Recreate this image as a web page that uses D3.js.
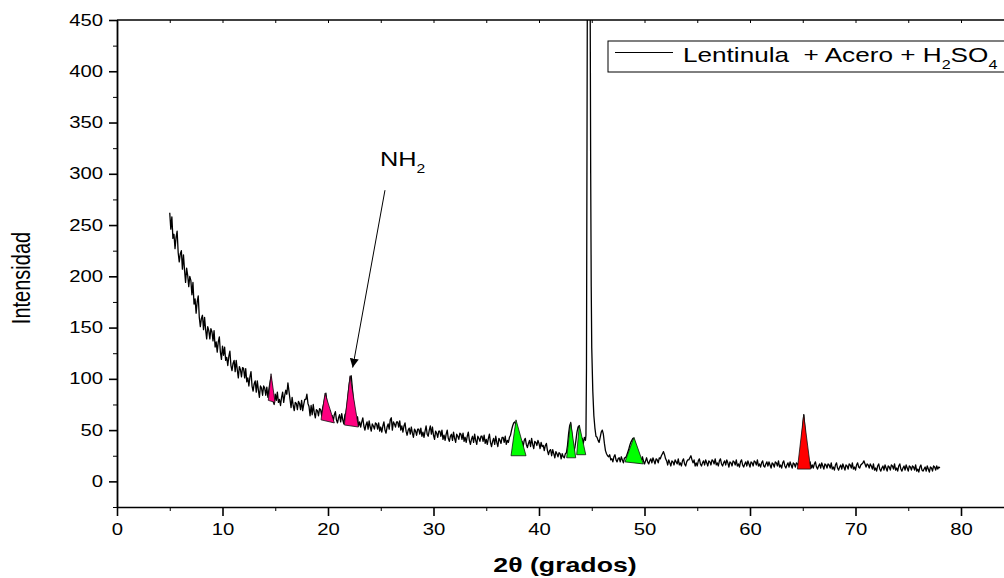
<!DOCTYPE html>
<html><head><meta charset="utf-8">
<script src="https://cdn.jsdelivr.net/npm/d3@7"></script>
<style>body{margin:0;background:#fff}svg{display:block}text{font-family:"Liberation Sans",Arial,sans-serif;white-space:pre}</style>
</head><body>
<svg id="chart" width="1004" height="578"></svg>
<script>
// ---------- data ----------
const xMajorTicks = [0,10,20,30,40,50,60,70,80];
const xMinorTicks = [5,15,25,35,45,55,65,75,85];
const yMajorTicks = [0,50,100,150,200,250,300,350,400,450];
const yMinorTicks = [-25,25,75,125,175,225,275,325,375,425];

// measured pattern: [2θ (deg), intensity]
const lowAngle = [
[5.0,262],[5.1,246],[5.2,258],[5.3,237],[5.4,241],[5.5,227],[5.6,238],[5.7,244],[5.8,223],[5.9,214],
[6.0,222],[6.1,225],[6.2,207],[6.3,221],[6.4,206],[6.5,194],[6.6,208],[6.7,201],[6.8,190],[6.9,200],
[7.0,196],[7.1,182],[7.2,194],[7.3,173],[7.4,178],[7.5,164],[7.6,175],[7.7,181],[7.8,160],[7.9,151],
[8.0,159],[8.1,162],[8.2,148],[8.3,160],[8.4,148],[8.5,139],[8.6,151],[8.7,147],[8.8,139],[8.9,149],
[9.0,146],[9.1,137],[9.2,147],[9.3,131],[9.4,136],[9.5,126],[9.6,136],[9.7,141],[9.8,126],[9.9,119],
[10.0,132],[10.1,123],[10.2,131],[10.3,118],[10.4,121],[10.5,113],[10.6,122],[10.7,127],[10.8,113],[10.9,108],
[11.0,115],[11.1,118],[11.2,107],[11.3,118],[11.4,109],[11.5,101],[11.6,112],[11.7,109],[11.8,102],[11.9,111],
[12.0,110],[12.1,101],[12.2,110],[12.3,97],[12.4,101],[12.5,93],[12.6,102],[12.7,107],[12.8,93],[12.9,88],
[13.0,95],[13.1,98],[13.2,87],[13.3,98],[13.4,89],[13.5,82],[13.6,93],[13.7,91],[13.8,84],[13.9,93],
[14.0,91],[14.1,84],[14.2,92],[14.3,82],[14.4,90],[14.5,96],[14.6,102],[14.7,89],[14.8,78],[14.9,75],
[15.0,85],[15.1,79],[15.2,87],[15.3,77],[15.4,80],[15.5,74],[15.6,82],[15.7,87],[15.8,77],[15.9,84],
[16.0,89],[16.1,85],[16.2,96],[16.3,88],[16.4,80],[16.5,72],[16.6,82],[16.7,74],[16.8,69],[16.9,77],
[17.0,76],[17.1,70],[17.2,78],[17.3,76],[17.4,70],[17.5,79],[17.6,69],[17.7,75],[17.8,80],[17.9,80],
[18.0,85],[18.1,76],[18.2,73],[18.3,64],[18.4,74],[18.5,65],[18.6,75],[18.7,67],[18.8,62],[18.9,70],
[19.0,69],[19.1,64],[19.2,71],[19.3,70],[19.4,64],[19.5,72],[19.6,76],[19.7,82],[19.8,86],[19.9,77]];

const midAngle = [
[20.0,70],[20.1,63],[20.2,69],[20.3,60],[20.4,64],[20.5,59],[20.6,65],[20.7,68],[20.8,60],[20.9,57],
[21.0,62],[21.1,65],[21.2,58],[21.3,66],[21.4,60],[21.5,56],[21.6,65],[21.7,67],[21.8,74],[21.9,84],
[22.0,94],[22.1,101],[22.2,103],[22.3,92],[22.4,80],[22.5,68],[22.6,63],[22.7,57],[22.8,63],[22.9,54],
[23.0,58],[23.1,53],[23.2,58],[23.3,62],[23.4,54],[23.5,50],[23.6,55],[23.7,58],[23.8,51],[23.9,59],
[24.0,53],[24.1,49],[24.2,56],[24.3,54],[24.4,51],[24.5,57],[24.6,56],[24.7,51],[24.8,57],[24.9,49],
[25.0,53],[25.1,48],[25.2,54],[25.3,58],[25.4,50],[25.5,47],[25.6,53],[25.7,56],[25.8,51],[25.9,60],
[26.0,62],[26.1,50],[26.2,58],[26.3,56],[26.4,53],[26.5,58],[26.6,58],[26.7,53],[26.8,59],[26.9,50],
[27.0,54],[27.1,48],[27.2,54],[27.3,57],[27.4,49],[27.5,45],[27.6,50],[27.7,52],[27.8,46],[27.9,53],
[28.0,47],[28.1,43],[28.2,51],[28.3,49],[28.4,45],[28.5,51],[28.6,51],[28.7,46],[28.8,52],[28.9,44],
[29.0,48],[29.1,43],[29.2,49],[29.3,54],[29.4,46],[29.5,44],[29.6,50],[29.7,54],[29.8,46],[29.9,53],
[30.0,45],[30.1,41],[30.2,49],[30.3,47],[30.4,43],[30.5,49],[30.6,49],[30.7,44],[30.8,50],[30.9,41],
[31.0,45],[31.1,40],[31.2,46],[31.3,50],[31.4,42],[31.5,39],[31.6,44],[31.7,46],[31.8,40],[31.9,48],
[32.0,42],[32.1,38],[32.2,46],[32.3,44],[32.4,41],[32.5,47],[32.6,46],[32.7,41],[32.8,47],[32.9,39],
[33.0,43],[33.1,38],[33.2,44],[33.3,48],[33.4,40],[33.5,36],[33.6,41],[33.7,44],[33.8,38],[33.9,46],
[34.0,40],[34.1,36],[34.2,44],[34.3,42],[34.4,39],[34.5,44],[34.6,44],[34.7,39],[34.8,45],[34.9,37],
[35.0,41],[35.1,36],[35.2,42],[35.3,46],[35.4,38],[35.5,34],[35.6,39],[35.7,42],[35.8,36],[35.9,44],
[36.0,38],[36.1,34],[36.2,42],[36.3,40],[36.4,37],[36.5,43],[36.6,43],[36.7,38],[36.8,44],[36.9,36],
[37.0,40],[37.1,38],[37.2,43],[37.3,45],[37.4,50],[37.5,54],[37.6,57],[37.7,58],[37.8,56],[37.9,50],
[38.0,44],[38.1,37],[38.2,43],[38.3,35],[38.4,39],[38.5,34],[38.6,40],[38.7,42],[38.8,36],[38.9,33],
[39.0,37],[39.1,40],[39.2,34],[39.3,42],[39.4,36],[39.5,32],[39.6,39],[39.7,38],[39.8,35],[39.9,40],
[40.0,37],[40.1,32],[40.2,38],[40.3,34],[40.4,35],[40.5,30],[40.6,35],[40.7,37],[40.8,30],[40.9,26],
[41.0,30],[41.1,31],[41.2,25],[41.3,31],[41.4,27],[41.5,23],[41.6,29],[41.7,27],[41.8,24],[41.9,28],
[42.0,27],[42.1,22],[42.2,27],[42.3,24],[42.4,23],[42.5,27],[42.6,28],[42.7,35],[42.8,46],[42.9,54],
[43.0,57],[43.1,48],[43.2,36],[43.3,29],[43.4,33],[43.5,40],[43.6,48],[43.7,53],[43.8,54],[43.9,45],
[44.0,37],[44.1,42],[44.2,37],[44.3,43],[44.4,40]];

const fePeak = [[44.45,45],[44.5,110],[44.55,330],[44.6,560],[44.7,650],[44.8,600],[44.85,470],[44.9,300],
[44.95,190],[45.0,130],[45.1,88],[45.2,64],[45.3,52],[45.4,44]];

const highAngle = [
[45.5,43],[45.6,40],[45.7,38],[45.8,43],[45.9,48],[46.0,50],[46.1,46],[46.2,37],[46.3,30],[46.4,27],
[46.5,25],[46.6,24],[46.7,26],[46.8,21],[46.9,22],[47.0,19],[47.1,24],[47.2,26],[47.3,21],[47.4,19],
[47.5,22],[47.6,23],[47.7,19],[47.8,24],[47.9,21],[48.0,18],[48.1,23],[48.2,23],[48.3,25],[48.4,28],
[48.5,31],[48.6,35],[48.7,38],[48.8,40],[48.9,42],[49.0,41],[49.1,37],[49.2,32],[49.3,27],[49.4,23],
[49.5,19],[49.6,23],[49.7,19],[49.8,24],[49.9,20],[50.0,17],[50.1,20],[50.2,23],[50.3,19],[50.4,17],
[50.5,20],[50.6,22],[50.7,18],[50.8,23],[50.9,20],[51.0,17],[51.1,22],[51.2,21],[51.3,18],[51.4,23],
[51.5,22],[51.6,25],[51.7,27],[51.8,29],[51.9,26],[52.0,22],[52.1,20],[52.2,16],[52.3,21],[52.4,18],
[52.5,15],[52.6,20],[52.7,19],[52.8,16],[52.9,21],[53.0,19],[53.1,17],[53.2,22],[53.3,16],[53.4,18],
[53.5,15],[53.6,20],[53.7,22],[53.8,17],[53.9,15],[54.0,19],[54.1,21],[54.2,21],[54.3,23],[54.4,25],
[54.5,21],[54.6,18],[54.7,21],[54.8,15],[54.9,18],[55.0,15],[55.1,20],[55.2,22],[55.3,17],[55.4,15],
[55.5,18],[55.6,20],[55.7,16],[55.8,21],[55.9,18],[56.0,15],[56.1,20],[56.2,19],[56.3,16],[56.4,21],
[56.5,20],[56.6,17],[56.7,22],[56.8,16],[56.9,18],[57.0,15],[57.1,20],[57.2,22],[57.3,17],[57.4,15],
[57.5,18],[57.6,20],[57.7,16],[57.8,21],[57.9,18],[58.0,14],[58.1,19],[58.2,18],[58.3,15],[58.4,20],
[58.5,19],[58.6,16],[58.7,21],[58.8,15],[58.9,17],[59.0,14],[59.1,19],[59.2,21],[59.3,16],[59.4,14],
[59.5,17],[59.6,19],[59.7,15],[59.8,20],[59.9,17],[60.0,14],[60.1,19],[60.2,18],[60.3,15],[60.4,20],
[60.5,19],[60.6,16],[60.7,21],[60.8,15],[60.9,17],[61.0,14],[61.1,18],[61.2,20],[61.3,15],[61.4,14],
[61.5,17],[61.6,19],[61.7,15],[61.8,19],[61.9,16],[62.0,13],[62.1,18],[62.2,17],[62.3,14],[62.4,19],
[62.5,18],[62.6,15],[62.7,20],[62.8,14],[62.9,16],[63.0,13],[63.1,18],[63.2,20],[63.3,15],[63.4,13],
[63.5,16],[63.6,18],[63.7,14],[63.8,19],[63.9,16],[64.0,13],[64.1,18],[64.2,17],[64.3,14],[64.4,18],
[64.5,17],[64.6,15],[64.7,20],[64.8,26],[64.9,38],[65.0,54],[65.1,65],[65.2,52],[65.3,36],[65.4,24],
[65.5,19],[65.6,16],[65.7,19],[65.8,13],[65.9,16],[66.0,13],[66.1,17],[66.2,19],[66.3,14],[66.4,12],
[66.5,15],[66.6,17],[66.7,13],[66.8,18],[66.9,15],[67.0,12],[67.1,17],[67.2,16],[67.3,13],[67.4,17],
[67.5,16],[67.6,13],[67.7,18],[67.8,12],[67.9,14],[68.0,11],[68.1,16],[68.2,18],[68.3,13],[68.4,11],
[68.5,14],[68.6,16],[68.7,12],[68.8,17],[68.9,14],[69.0,11],[69.1,16],[69.2,15],[69.3,12],[69.4,17],
[69.5,16],[69.6,13],[69.7,18],[69.8,12],[69.9,14],[70.0,11],[70.1,16],[70.2,18],[70.3,14],[70.4,13],
[70.5,16],[70.6,17],[70.7,18],[70.8,20],[70.9,17],[71.0,14],[71.1,17],[71.2,16],[71.3,13],[71.4,17],
[71.5,15],[71.6,12],[71.7,17],[71.8,11],[71.9,13],[72.0,10],[72.1,15],[72.2,17],[72.3,12],[72.4,10],
[72.5,13],[72.6,15],[72.7,11],[72.8,16],[72.9,13],[73.0,10],[73.1,15],[73.2,14],[73.3,11],[73.4,16],
[73.5,15],[73.6,12],[73.7,17],[73.8,11],[73.9,13],[74.0,10],[74.1,15],[74.2,17],[74.3,12],[74.4,10],
[74.5,13],[74.6,15],[74.7,11],[74.8,16],[74.9,13],[75.0,10],[75.1,15],[75.2,14],[75.3,11],[75.4,15],
[75.5,14],[75.6,11],[75.7,16],[75.8,10],[75.9,12],[76.0,9],[76.1,14],[76.2,16],[76.3,11],[76.4,10],
[76.5,12],[76.6,14],[76.7,10],[76.8,15],[76.9,12],[77.0,9],[77.1,14],[77.2,13],[77.3,10],[77.4,15],
[77.5,14],[77.6,11],[77.7,15],[77.8,12],[77.9,14],[78.0,13]];

// peak marker triangles: [left base, apex, right base] in (2θ, intensity)
const pinkMarks = [[[14.34,79],[14.6,105],[14.98,77]],[[19.34,60],[19.72,86],[20.6,57]],[[21.55,55],[22.09,103],[22.88,53]]];
const greenMarks = [[[37.35,25],[37.82,60],[38.77,25]],[[42.62,23],[43.0,58],[43.48,23]],[[43.57,26],[43.82,55],[44.43,26]],[[48.15,19],[49.0,43],[49.89,17]]];
const redMarks = [[[64.49,12],[65.09,65],[65.75,12]]];
const markColors = {pink:"#ff0080", green:"#00ff00", red:"#ff0000"};

const annotation = {label:"NH", sub:"2", textAt:[24.93,308], from:[25.4,284], to:[22.34,111]};
const legendLabel = ["Lentinula  + Acero + H","2","SO","4"];
const xTitle = "2\u03b8 (grados)";
const yTitle = "Intensidad";

// ---------- layout ----------
const SX = 1.27; // horizontal stretch of the original picture
const svg = d3.select("#chart");
const x = d3.scaleLinear().domain([0,85]).range([117, 117 + 85*10.55]);
const y = d3.scaleLinear().domain([-25,450]).range([507,20]);
const [x0,x1] = x.range(), [y0,y1] = y.range();

svg.append("defs").append("clipPath").attr("id","plot")
  .append("rect").attr("x",x0).attr("y",y1).attr("width",x1-x0).attr("height",y0-y1);

// frame
svg.append("line").attr("x1",x0).attr("x2",x1).attr("y1",y1).attr("y2",y1).attr("stroke","#000").attr("stroke-width",1.6);
svg.append("line").attr("x1",x1).attr("x2",x1).attr("y1",y1).attr("y2",y0).attr("stroke","#000").attr("stroke-width",1.6);

// top ticks (inward)
const gTop = svg.append("g").attr("transform",`translate(0,${y1})`)
  .call(d3.axisTop(x).tickValues(xMajorTicks.concat(xMinorTicks)).tickSize(-3).tickFormat(""));
gTop.select(".domain").remove();

// bottom axis
const gx = svg.append("g").attr("transform",`translate(0,${y0})`)
  .call(d3.axisBottom(x).tickValues(xMajorTicks).tickSize(9).tickSizeOuter(0).tickPadding(8));
gx.select(".domain").attr("stroke-width",1.6);
gx.selectAll(".tick line").attr("stroke-width",1.6);
gx.selectAll(".tick text").attr("font-size",16).attr("font-family","Liberation Sans, Arial")
  .attr("transform",`scale(${SX},1)`).attr("fill","#000");
svg.append("g").attr("transform",`translate(0,${y0})`)
  .call(d3.axisBottom(x).tickValues(xMinorTicks).tickSize(4).tickFormat(""))
  .call(g=>g.select(".domain").remove());

// left axis
const gy = svg.append("g").attr("transform",`translate(${x0},0)`)
  .call(d3.axisLeft(y).tickValues(yMajorTicks).tickSize(8).tickSizeOuter(0).tickPadding(5));
gy.select(".domain").attr("stroke-width",1.8);
gy.selectAll(".tick line").attr("stroke-width",1.6);
gy.selectAll(".tick text").attr("font-size",16).attr("font-family","Liberation Sans, Arial")
  .attr("x",-14/SX).attr("transform",`scale(${SX},1)`).attr("fill","#000");
svg.append("g").attr("transform",`translate(${x0},0)`)
  .call(d3.axisLeft(y).tickValues(yMinorTicks).tickSize(4).tickFormat(""))
  .call(g=>g.select(".domain").remove());

// axis titles
svg.append("text").attr("transform",`translate(565,572) scale(${SX},1)`)
  .attr("text-anchor","middle").attr("font-size",21).attr("font-weight","bold").text(xTitle);
svg.append("text").attr("transform",`translate(30,278) scale(${SX},1) rotate(-90)`)
  .attr("text-anchor","middle").attr("font-size",20).text(yTitle);

// data line
const scan = lowAngle.concat(midAngle, fePeak, highAngle);
const line = d3.line().x(d=>x(d[0])).y(d=>y(d[1]));
svg.append("path").datum(scan).attr("clip-path","url(#plot)")
  .attr("d",line).attr("fill","none").attr("stroke","#000").attr("stroke-width",1.3).attr("stroke-linejoin","round");

// triangles
const tri = d3.line().x(d=>x(d[0])).y(d=>y(d[1]));
[[pinkMarks,markColors.pink],[greenMarks,markColors.green],[redMarks,markColors.red]].forEach(([set,col])=>{
  svg.append("g").selectAll("path").data(set).join("path")
    .attr("d",d=>tri(d)+"Z").attr("fill",col).attr("stroke","#111").attr("stroke-width",0.8);
});

// NH2 annotation with arrow
svg.append("defs").append("marker").attr("id","ah").attr("viewBox","0 0 10 10")
  .attr("refX",10).attr("refY",5).attr("markerWidth",9).attr("markerHeight",9)
  .attr("markerUnits","userSpaceOnUse").attr("orient","auto")
  .append("path").attr("d","M0,0 L10,5 L0,10 Z").attr("fill","#000");
svg.append("line").attr("x1",x(annotation.from[0])).attr("y1",y(annotation.from[1]))
  .attr("x2",x(annotation.to[0])).attr("y2",y(annotation.to[1]))
  .attr("stroke","#000").attr("stroke-width",1).attr("marker-end","url(#ah)");
const nt = svg.append("text").attr("transform",`translate(${x(annotation.textAt[0])},${y(annotation.textAt[1])}) scale(${SX*0.95},1)`)
  .attr("font-size",21);
nt.append("tspan").text(annotation.label);
nt.append("tspan").attr("font-size",13).attr("dy",7).text(annotation.sub);

// legend
const lg = svg.append("g");
lg.append("rect").attr("x",608).attr("y",41).attr("width",440).attr("height",31)
  .attr("fill","#fff").attr("stroke","#000").attr("stroke-width",1);
lg.append("line").attr("x1",615).attr("x2",673).attr("y1",52.5).attr("y2",52.5).attr("stroke","#000").attr("stroke-width",1);
const lt = lg.append("text").attr("transform",`translate(683,62) scale(1.245,1)`).attr("font-size",21);
lt.append("tspan").text(legendLabel[0]);
lt.append("tspan").attr("font-size",13).attr("dy",7).text(legendLabel[1]);
lt.append("tspan").attr("dy",-7).text(legendLabel[2]);
lt.append("tspan").attr("font-size",13).attr("dy",7).text(legendLabel[3]);
</script>
</body></html>
